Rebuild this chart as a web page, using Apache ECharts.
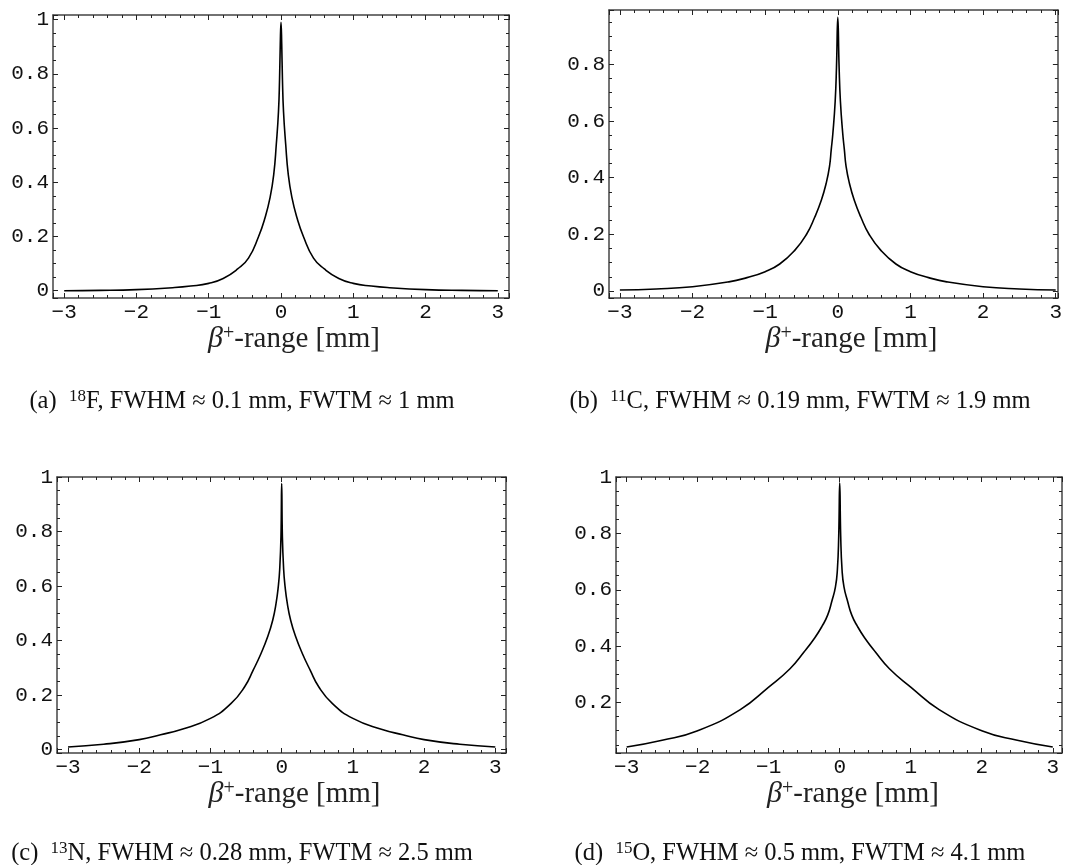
<!DOCTYPE html>
<html>
<head>
<meta charset="utf-8">
<script src="https://cdn.jsdelivr.net/npm/echarts@6/dist/echarts.min.js"></script>
<style>
  html, body { margin: 0; padding: 0; background: #fff; }
  #chart { width: 1065px; height: 865px; }
</style>
</head>
<body>
<div id="chart"></div>
<script>
// values, x in mm
var xF18 = [-3, -2.5, -2, -1.5, -1.25, -1, -0.8, -0.6, -0.45, -0.31, -0.22, -0.15, -0.1, -0.065, -0.035, -0.02, -0.01, 0,
            0.01, 0.02, 0.035, 0.065, 0.1, 0.15, 0.22, 0.31, 0.45, 0.6, 0.8, 1, 1.25, 1.5, 2, 2.5, 3];
var yF18 = [0, 0.001, 0.004, 0.011, 0.017, 0.027, 0.045, 0.08, 0.12, 0.2, 0.27, 0.345, 0.43, 0.54, 0.66, 0.78, 0.91, 0.99,
            0.91, 0.78, 0.66, 0.54, 0.43, 0.345, 0.27, 0.2, 0.12, 0.08, 0.045, 0.027, 0.017, 0.011, 0.004, 0.001, 0];

var xC11 = [-3, -2.5, -2, -1.5, -1.25, -1, -0.8, -0.59, -0.43, -0.318, -0.227, -0.16, -0.114, -0.09, -0.068, -0.036, -0.018, 0,
            0.018, 0.036, 0.068, 0.09, 0.114, 0.16, 0.227, 0.318, 0.43, 0.59, 0.8, 1, 1.25, 1.5, 2, 2.5, 3];
var yC11 = [0.003, 0.007, 0.015, 0.032, 0.047, 0.068, 0.095, 0.144, 0.2, 0.26, 0.32, 0.38, 0.44, 0.5, 0.556, 0.67, 0.79, 0.966,
            0.79, 0.67, 0.556, 0.5, 0.44, 0.38, 0.32, 0.26, 0.2, 0.144, 0.095, 0.068, 0.047, 0.032, 0.015, 0.007, 0.003];

var xN13 = [-3, -2.5, -2, -1.7, -1.4, -1, -0.71, -0.52, -0.4, -0.29, -0.197, -0.126, -0.08, -0.047, -0.028, -0.01, 0,
            0.01, 0.028, 0.047, 0.08, 0.126, 0.197, 0.29, 0.4, 0.52, 0.71, 1, 1.4, 1.7, 2, 2.5, 3];
var yN13 = [0.01, 0.02, 0.037, 0.055, 0.075, 0.115, 0.17, 0.231, 0.292, 0.353, 0.414, 0.475, 0.535, 0.6, 0.66, 0.78, 0.976,
            0.78, 0.66, 0.6, 0.535, 0.475, 0.414, 0.353, 0.292, 0.231, 0.17, 0.115, 0.075, 0.055, 0.037, 0.02, 0.01];

var xO15 = [-3, -2.5, -2, -1.4, -1, -0.7, -0.5, -0.35, -0.25, -0.17, -0.11, -0.06, -0.033, -0.014, 0,
            0.014, 0.033, 0.06, 0.11, 0.17, 0.25, 0.35, 0.5, 0.7, 1, 1.4, 2, 2.5, 3];
var yO15 = [0.042, 0.066, 0.1, 0.175, 0.255, 0.32, 0.38, 0.43, 0.47, 0.51, 0.56, 0.61, 0.67, 0.79, 0.979,
            0.79, 0.67, 0.61, 0.56, 0.51, 0.47, 0.43, 0.38, 0.32, 0.255, 0.175, 0.1, 0.066, 0.042];

var captions = [
  '(a)  {sup|18}F, FWHM ≈ 0.1 mm, FWTM ≈ 1 mm',
  '(b)  {sup|11}C, FWHM ≈ 0.19 mm, FWTM ≈ 1.9 mm',
  '(c)  {sup|13}N, FWHM ≈ 0.28 mm, FWTM ≈ 2.5 mm',
  '(d)  {sup|15}O, FWHM ≈ 0.5 mm, FWTM ≈ 4.1 mm'
];

var curves = [[xF18, yF18], [xC11, yC11], [xN13, yN13], [xO15, yO15]];

// panel boxes and axis windows
var boxes = [
  { left: 53,  top: 15,  width: 456, height: 283 },
  { left: 609, top: 10,  width: 453, height: 288 },
  { left: 57,  top: 477, width: 449, height: 276 },
  { left: 616, top: 477, width: 446, height: 276 }
];
var xRange = [[-3.155, 3.155], [-3.15, 3.03], [-3.155, 3.15], [-3.15, 3.13]];
var yRange = [[-0.027, 1.017], [-0.025, 0.992], [-0.012, 1.0], [0.021, 1.0]];
var capPos = [[242, 402], [800, 402], [242, 854], [800, 854]];
var nameShift = [13, 18, 13, 14]; // axis title sits a bit right of the middle

var frameLine = { show: true, onZero: false, lineStyle: { color: '#444', width: 1.5 } };
var tickStyle = { color: '#222', width: 1 };
var monoFont = 'Liberation Mono';

function xLabel(v) {
  if (Math.abs(v - Math.round(v)) > 1e-6) return '';
  return String(Math.round(v)).replace('-', '\u2212');
}
function yLabel(v) {
  if (Math.abs(v * 5 - Math.round(v * 5)) > 1e-6) return '';
  var r = Math.round(v * 5) / 5;
  return r === 0 ? '0' : (r === 1 ? '1' : r.toFixed(1));
}

var xAxes = [], yAxes = [], series = [], graphics = [];
boxes.forEach(function (b, i) {
  ['bottom', 'top'].forEach(function (pos) {
    xAxes.push({
      type: 'value', gridIndex: i, position: pos,
      min: xRange[i][0], max: xRange[i][1], splitNumber: 6,
      axisLine: frameLine,
      axisTick: { inside: true, length: 5, lineStyle: tickStyle },
      minorTick: { show: true, splitNumber: 5, length: 3, lineStyle: tickStyle },
      splitLine: { show: false },
      axisLabel: pos === 'bottom'
        ? { show: true, fontFamily: monoFont, fontSize: 21, color: '#111', margin: 4, formatter: xLabel }
        : { show: false },
      name: pos === 'bottom' ? '{b|β}{s|+}-range [mm]' : '',
      nameLocation: 'middle', nameGap: 17,
      nameTextStyle: {
        fontFamily: 'Liberation Serif', fontSize: 29, color: '#222', lineHeight: 30,
        padding: [0, 0, 0, nameShift[i] * 2],
        rich: {
          b: { fontFamily: 'Liberation Serif', fontStyle: 'italic', fontSize: 30, color: '#222', lineHeight: 30 },
          s: { fontFamily: 'Liberation Serif', fontSize: 20, color: '#222', verticalAlign: 'top', lineHeight: 18 }
        }
      }
    });
  });
  ['left', 'right'].forEach(function (pos) {
    yAxes.push({
      type: 'value', gridIndex: i, position: pos,
      min: yRange[i][0], max: yRange[i][1], splitNumber: 5,
      axisLine: frameLine,
      axisTick: { inside: true, length: 5, lineStyle: tickStyle },
      minorTick: { show: true, splitNumber: 4, length: 3, lineStyle: tickStyle },
      splitLine: { show: false },
      axisLabel: pos === 'left'
        ? { show: true, fontFamily: monoFont, fontSize: 21, color: '#111', margin: 4, formatter: yLabel }
        : { show: false }
    });
  });
  var pts = curves[i][0].map(function (x, k) { return [x, curves[i][1][k]]; });
  series.push({
    type: 'line', xAxisIndex: i * 2, yAxisIndex: i * 2,
    data: pts, showSymbol: false, smooth: 0.5,
    lineStyle: { color: '#000', width: 1.6 }, silent: true, animation: false
  });
  graphics.push({
    type: 'text', x: capPos[i][0], y: capPos[i][1],
    style: {
      text: captions[i], fill: '#111',
      fontFamily: 'Liberation Serif', fontSize: 24.5, lineHeight: 28,
      align: 'center', verticalAlign: 'middle',
      rich: { sup: { fontFamily: 'Liberation Serif', fontSize: 17, fill: '#111', verticalAlign: 'top', lineHeight: 17 } }
    }
  });
});

var chart = echarts.init(document.getElementById('chart'), null, { renderer: 'canvas' });
chart.setOption({
  animation: false,
  backgroundColor: '#fff',
  grid: boxes,
  xAxis: xAxes,
  yAxis: yAxes,
  series: series,
  graphic: graphics
});
</script>
</body>
</html>
